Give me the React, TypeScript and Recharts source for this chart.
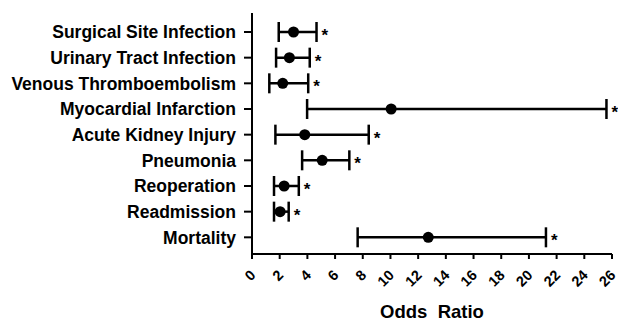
import React from "react";
import { ComposedChart, Scatter, XAxis, YAxis, ErrorBar } from "recharts";

const categories = [
  "Surgical Site Infection",
  "Urinary Tract Infection",
  "Venous Thromboembolism",
  "Myocardial Infarction",
  "Acute Kidney Injury",
  "Pneumonia",
  "Reoperation",
  "Readmission",
  "Mortality",
];
const oddsRatio = [3.0, 2.7, 2.22, 10.05, 3.81, 5.07, 2.32, 2.03, 12.73];
const lowerCI = [1.93, 1.74, 1.25, 3.98, 1.69, 3.62, 1.59, 1.59, 7.63];
const upperCI = [4.66, 4.17, 4.06, 25.6, 8.43, 7.03, 3.38, 2.65, 21.23];
const significant = [true, true, true, true, true, true, true, true, true];
const xTicks = [0, 2, 4, 6, 8, 10, 12, 14, 16, 18, 20, 22, 24, 26];
const rowTicks = categories.map((_, i) => i);

const data = categories.map((name, i) => ({
  name,
  idx: i,
  or: oddsRatio[i],
  upper: upperCI[i],
  err: [oddsRatio[i] - lowerCI[i], upperCI[i] - oddsRatio[i]],
  sig: significant[i],
}));

const FONT = "'Liberation Sans', Arial, sans-serif";

const XTick = (props: any) => {
  const { x, y, payload } = props;
  const ax = x + 4.5;
  const ay = y + 17;
  return (
    <text
      x={ax}
      y={ay}
      textAnchor="end"
      transform={`rotate(-45, ${ax}, ${ay})`}
      fontFamily={FONT}
      fontWeight="bold"
      fontSize={14.5}
      fill="#000"
    >
      {payload.value}
    </text>
  );
};

const Dot = (props: any) => {
  const { cx, cy } = props;
  return <circle cx={cx} cy={cy} r={5.5} fill="#000" />;
};

const Star = (props: any) => {
  const { cx, cy, payload } = props;
  if (!payload || !payload.sig) return <g />;
  return (
    <text
      x={cx + 5}
      y={cy + 9}
      textAnchor="start"
      fontFamily={FONT}
      fontWeight="bold"
      fontSize={17}
      fill="#000"
    >
      *
    </text>
  );
};

const XLabel = (props: any) => {
  const { viewBox } = props;
  return (
    <text
      x={viewBox.x + viewBox.width / 2}
      y={318}
      textAnchor="middle"
      fontFamily={FONT}
      fontWeight="bold"
      fontSize={18.5}
      fill="#000"
      style={{ whiteSpace: "pre" }}
    >
      {"Odds  Ratio"}
    </text>
  );
};

export default function App() {
  return (
    <div style={{ position: "absolute", left: 0, top: 0, width: 618, height: 321, background: "#fff" }}>
      <ComposedChart
        width={618}
        height={321}
        data={data}
        layout="vertical"
        margin={{ top: 13, right: 6, bottom: 0, left: 0 }}
      >
        <XAxis
          type="number"
          domain={[0, 26]}
          ticks={xTicks}
          interval={0}
          height={67}
          stroke="#000"
          strokeWidth={2}
          tickSize={5}
          tickMargin={0}
          tick={<XTick />}
          label={<XLabel />}
        />
        <YAxis
          type="number"
          dataKey="idx"
          domain={[-0.74, 8.65]}
          ticks={rowTicks}
          interval={0}
          allowDataOverflow
          tickFormatter={(v: number) => categories[v] ?? ""}
          width={252}
          stroke="#000"
          strokeWidth={2}
          tickSize={8}
          tickMargin={8}
          tick={{ fill: "#000", fontFamily: FONT, fontWeight: "bold", fontSize: 17.5 }}
        />
        <Scatter dataKey="or" isAnimationActive={false} shape={<Dot />}>
          <ErrorBar dataKey="err" direction="x" width={10} strokeWidth={2.5} stroke="#000" />
        </Scatter>
        <Scatter dataKey="upper" isAnimationActive={false} shape={<Star />} />
      </ComposedChart>
    </div>
  );
}
